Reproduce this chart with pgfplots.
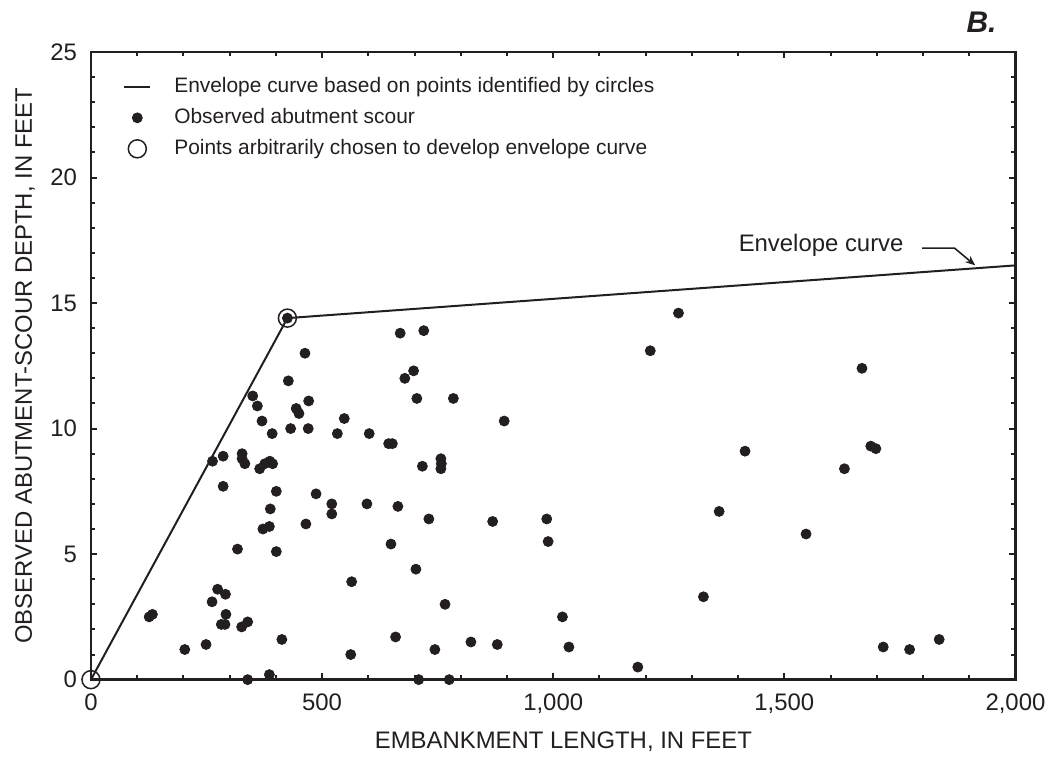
\documentclass[border=0pt]{standalone}
\usepackage{fontspec}
\setmainfont{Liberation Sans}
\usepackage{pgfplots}
\pgfplotsset{compat=1.18}
\usetikzlibrary{arrows.meta}
\definecolor{ink}{RGB}{35,31,32}
\pgfplotsset{
  lineleg/.style={legend image code/.code={\draw[##1] (0bp,0bp) -- (13bp,0bp);}},
  markleg/.style={legend image code/.code={\draw[mark repeat=1, mark phase=1, ##1] plot coordinates {(6.5bp,0bp)};}},
}

\begin{document}
\begin{tikzpicture}
\begin{axis}[
  width=462.5bp, height=314bp, scale only axis,
  xmin=0, xmax=2000, ymin=0, ymax=25,
  xtick={0,500,1000,1500,2000}, ytick={0,5,10,15,20,25},
  minor x tick num=4, minor y tick num=4,
  tick align=inside, tick pos=both,
  major tick length=3.2bp, minor tick length=2.2bp,
  axis line style={line width=1.3bp, ink},
  every tick/.style={line width=1bp, ink},
  /pgf/number format/1000 sep={,},
  /pgf/number format/assume math mode=true,
  tick label style={font=\fontsize{12}{14}\selectfont, text=ink},
  xticklabel style={yshift=-3.5bp},
  yticklabel style={xshift=-3.5bp},
  xlabel={EMBANKMENT LENGTH, IN FEET},
  ylabel={OBSERVED ABUTMENT-SCOUR DEPTH, IN FEET},
  label style={font=\fontsize{12}{14}\selectfont, text=ink},
  xlabel style={at={(axis description cs:0.511,-0.0987)}, anchor=center},
  ylabel style={at={(axis description cs:-0.0714,0.5)}, anchor=center},
  clip=false,
  legend cell align=left,
  legend style={at={(axis description cs:0,1)}, anchor=north west,
    xshift=16bp, yshift=-12bp, draw=none, fill=none,
    font=\fontsize{10.5}{12}\selectfont, text=ink,
    row sep=5bp, inner sep=0pt,
    nodes={inner sep=0pt, text height=8bp, text depth=2.5bp},
    /tikz/every odd column/.append style={column sep=11.5bp}},
]
% envelope curve
\addplot[ink, line width=1bp, lineleg]
  coordinates {(0,0) (425,14.4) (2000,16.5)};
\addlegendentry{Envelope curve based on points identified by circles}

% observed abutment scour
\addplot[only marks, mark=*, mark size=2.5bp, ink, mark options={fill=ink, draw=ink}, markleg]
  coordinates {
  (425,14.4) (463,13.0) (427,11.9) (350,11.3) (360,10.9) (471,11.1)
  (444,10.8) (450,10.6) (370,10.3) (432,10.0) (470,10.0) (392,9.8)
  (263,8.7) (286,8.9) (327,9.0) (327,8.8) (333,8.6) (365,8.4)
  (376,8.6) (387,8.7) (393,8.6) (286,7.7) (401,7.5) (487,7.4)
  (388,6.8) (465,6.2) (372,6.0) (386,6.1) (317,5.2) (401,5.1)
  (274,3.6) (291,3.4) (262,3.1) (292,2.6) (282,2.2) (290,2.2)
  (326,2.1) (339,2.3) (126,2.5) (133,2.6) (203,1.2) (249,1.4)
  (413,1.6) (339,0.0) (386,0.2)
  (669,13.8) (720,13.9) (698,12.3) (679,12.0) (705,11.2) (784,11.2)
  (548,10.4) (533,9.8) (602,9.8) (644,9.4) (652,9.4) (894,10.3)
  (717,8.5) (757,8.8) (758,8.6) (757,8.4) (521,7.0) (521,6.6)
  (597,7.0) (664,6.9) (731,6.4) (869,6.3) (986,6.4) (989,5.5)
  (649,5.4) (703,4.4) (564,3.9) (766,3.0) (659,1.7) (562,1.0)
  (744,1.2) (822,1.5) (879,1.4) (709,0.0) (775,0.0)
  (1271,14.6) (1210,13.1) (1415,9.1) (1359,6.7) (1325,3.3) (1020,2.5)
  (1034,1.3) (1183,0.5) (1547,5.8)
  (1668,12.4) (1687,9.3) (1698,9.2) (1630,8.4) (1714,1.3) (1771,1.2)
  (1835,1.6)
  };
\addlegendentry{Observed abutment scour}

% circled points
\addplot[only marks, mark=o, mark size=4.5bp, ink, mark options={line width=0.75bp, draw=ink}, markleg]
  coordinates {(0,0) (425,14.4)};
\addlegendentry{Points arbitrarily chosen to develop envelope curve}

% annotation
\node[anchor=base east, font=\fontsize{12}{14}\selectfont, text=ink] at (axis cs:1773,17.05) {Envelope curve};
\draw[ink, line width=0.8bp, -{Stealth[length=5bp, width=4bp]}]
  (axis cs:1798,17.19) -- (axis cs:1868,17.19) -- (axis cs:1913,16.5);

% panel letter
\node[anchor=base east, font=\fontsize{15}{18}\selectfont\bfseries\itshape, text=ink]
  at ([xshift=-6bp, yshift=9.5bp]rel axis cs:1,1) {B.};

% bounding box
\path ([shift={(-45.5bp,-38bp)}]rel axis cs:0,0) rectangle ([shift={(18bp,26bp)}]rel axis cs:1,1);
\end{axis}
\end{tikzpicture}
\end{document}
